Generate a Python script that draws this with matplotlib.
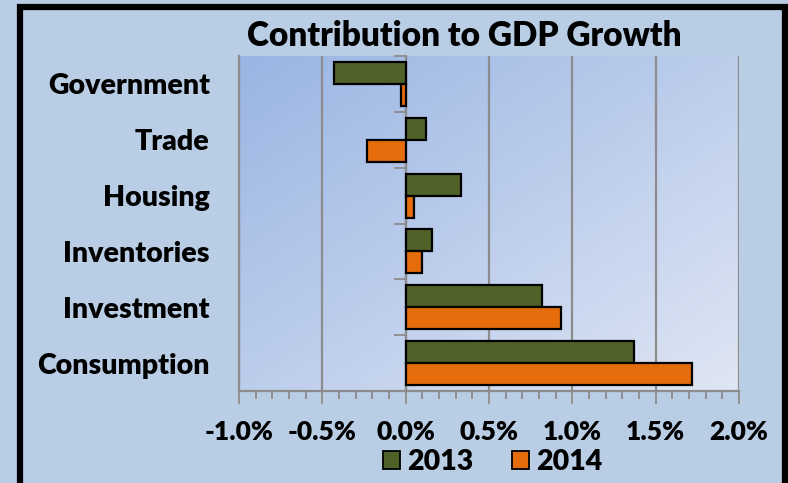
import numpy as np
import matplotlib
matplotlib.use('Agg')
import matplotlib.pyplot as plt
from matplotlib.patches import Patch, Rectangle
from matplotlib.colors import LinearSegmentedColormap
from matplotlib.ticker import MultipleLocator, FuncFormatter

plt.rcParams['font.family'] = ['Lato', 'DejaVu Sans']
plt.rcParams['font.weight'] = 'heavy'

# Contribution to GDP growth, percentage points
categories = ['Government', 'Trade', 'Housing', 'Inventories', 'Investment', 'Consumption']
growth_2013 = [-0.43, 0.12, 0.33, 0.16, 0.82, 1.37]
growth_2014 = [-0.03, -0.23, 0.05, 0.10, 0.93, 1.72]
series_names = ['2013', '2014']
x_ticks = [-1.0, -0.5, 0.0, 0.5, 1.0, 1.5, 2.0]

green = '#4f6228'
orange = '#e46c0a'
grid_grey = '#8c8c8c'

fig = plt.figure(figsize=(7.88, 4.83), dpi=100, facecolor='#b9cde5')
ax = fig.add_axes([239 / 788, 1 - 391 / 483, 500 / 788, 335 / 483])
ax.set_facecolor('none')

# diagonal blue gradient behind the bars
gx, gy = np.meshgrid(np.linspace(0, 1, 200), np.linspace(0, 1, 200))
grad = (gx + gy) / 2
cmap = LinearSegmentedColormap.from_list('bg', ['#9ab5e3', '#dfe6f4'])
ax.imshow(grad, cmap=cmap, extent=[0, 1, 0, 1], transform=ax.transAxes,
          aspect='auto', zorder=0, interpolation='bilinear')

pos = np.arange(len(categories))
h = 0.395
ax.barh(pos - h / 2, growth_2013, height=h, color=green, edgecolor='black', linewidth=1.6, zorder=3)
ax.barh(pos + h / 2, growth_2014, height=h, color=orange, edgecolor='black', linewidth=1.6, zorder=3)

ax.set_xlim(x_ticks[0], x_ticks[-1])
ax.set_ylim(len(categories) - 0.5, -0.5)

ax.set_xticks(x_ticks)
ax.xaxis.set_minor_locator(MultipleLocator(0.1))
ax.xaxis.set_major_formatter(FuncFormatter(lambda v, p: f'{v:.1f}%'))
ax.tick_params(axis='x', which='major', length=9, width=1.3, color=grid_grey,
               labelsize=19, pad=12)
ax.tick_params(axis='x', which='minor', length=6, width=1.3, color=grid_grey)
ax.xaxis.grid(True, color=grid_grey, linewidth=1.6, zorder=1)
ax.set_axisbelow(True)

ax.set_yticks(pos)
ax.set_yticklabels(categories)
ax.tick_params(axis='y', length=0, labelsize=20.5, pad=21)

for side in ['top', 'right']:
    ax.spines[side].set_visible(False)
ax.spines['left'].set_color(grid_grey)
ax.spines['left'].set_linewidth(1.6)
ax.spines['bottom'].set_color(grid_grey)
ax.spines['bottom'].set_linewidth(1.6)

# category axis sits on the zero line
zero_frac = (0 - x_ticks[0]) / (x_ticks[-1] - x_ticks[0])
cat_axis = ax.secondary_yaxis(zero_frac)
cat_axis.set_yticks(np.arange(-0.5, len(categories), 1.0))
cat_axis.set_yticklabels([])
cat_axis.tick_params(axis='y', length=9, width=1.3, color=grid_grey)
cat_axis.spines['left'].set_color(grid_grey)
cat_axis.spines['left'].set_linewidth(1.6)

fig.text(464 / 788, 1 - 36 / 483, 'Contribution to GDP Growth',
         ha='center', va='center', fontsize=24, fontweight='heavy')

handles = [Patch(facecolor=green, edgecolor='black', linewidth=1.3),
           Patch(facecolor=orange, edgecolor='black', linewidth=1.3)]
fig.legend(handles, series_names, loc='center', bbox_to_anchor=(493 / 788, 1 - 462 / 483),
           ncol=2, frameon=False, fontsize=20.5, handlelength=0.6, handleheight=0.6,
           handletextpad=0.25, columnspacing=1.35)

# black chart frame, bottom edge runs off the canvas
fig.patches.append(Rectangle((20 / 788, -0.05), (784.5 - 20) / 788, 1.05 - 7 / 483,
                             transform=fig.transFigure, fill=False,
                             edgecolor='black', linewidth=4.5))

fig.savefig('out.png', dpi=100, facecolor=fig.get_facecolor())
